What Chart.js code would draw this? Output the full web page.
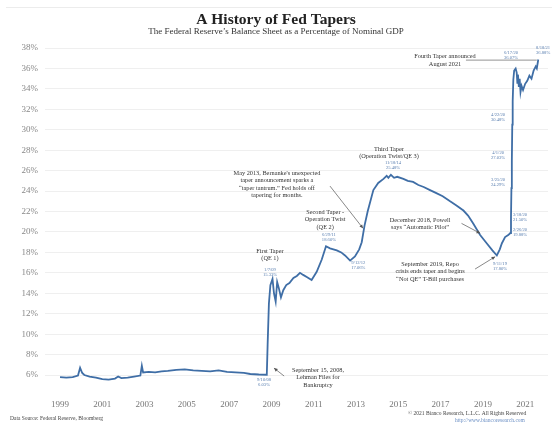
<!DOCTYPE html>
<html><head><meta charset="utf-8">
<script src="https://cdn.jsdelivr.net/npm/chart.js@4.4.1/dist/chart.umd.min.js"></script>
<style>html,body{margin:0;padding:0;background:#fff}canvas{display:block}</style>
</head><body>
<canvas id="c" width="552" height="424"></canvas>
<script>
// ---- data ----
const dates = [1999.0,1999.3,1999.6,1999.85,1999.95,2000.05,2000.15,2000.4,2000.7,2001.0,2001.3,2001.6,2001.75,2001.9,2002.2,2002.5,2002.8,2002.87,2002.93,2003.2,2003.5,2003.8,2004.1,2004.5,2004.9,2005.3,2005.7,2006.1,2006.5,2006.9,2007.3,2007.7,2008.0,2008.4,2008.78,2008.82,2008.88,2008.95,2009.05,2009.12,2009.2,2009.27,2009.35,2009.45,2009.56,2009.7,2009.85,2010.04,2010.2,2010.35,2010.5,2010.67,2010.9,2011.14,2011.38,2011.58,2011.77,2012.09,2012.3,2012.48,2012.72,2012.95,2013.15,2013.27,2013.4,2013.55,2013.82,2014.05,2014.3,2014.45,2014.53,2014.65,2014.8,2014.95,2015.24,2015.45,2015.7,2015.95,2016.2,2016.5,2016.8,2017.1,2017.45,2017.75,2018.08,2018.3,2018.55,2018.87,2019.18,2019.45,2019.66,2019.8,2019.9,2020.05,2020.2,2020.3,2020.33,2020.35,2020.37,2020.39,2020.41,2020.44,2020.48,2020.55,2020.6,2020.63,2020.66,2020.7,2020.74,2020.78,2020.83,2020.9,2021.0,2021.1,2021.2,2021.3,2021.4,2021.5,2021.55,2021.62];
const fedPctGdp = [5.80,5.75,5.80,5.95,6.70,6.20,6.00,5.85,5.75,5.60,5.55,5.65,5.85,5.70,5.75,5.85,5.95,6.90,6.25,6.30,6.25,6.35,6.40,6.50,6.55,6.45,6.40,6.35,6.45,6.30,6.25,6.20,6.10,6.05,6.03,9.0,13.0,14.8,15.4,14.0,13.2,15.1,14.5,13.6,14.3,14.8,15.0,15.5,15.7,16.0,15.8,15.6,15.3,16.1,17.3,18.6,18.4,18.2,18.0,17.7,17.2,17.6,18.3,19.0,20.6,22.0,24.1,24.8,25.2,25.5,25.3,25.6,25.3,25.4,25.2,25.0,24.9,24.6,24.4,24.1,23.8,23.5,23.0,22.6,22.1,21.6,20.8,19.7,18.9,18.2,17.7,18.3,18.9,19.5,19.7,19.9,21.5,24.3,27.0,30.5,32.8,34.9,35.8,36.0,35.6,34.6,35.4,34.2,35.0,33.7,34.3,33.9,34.5,34.8,35.3,35.0,35.8,36.2,36.0,36.88];
const yTicks = [6,8,10,12,14,16,18,20,22,24,26,28,30,32,34,36,38];
const xTicks = [1999,2001,2003,2005,2007,2009,2011,2013,2015,2017,2019,2021];

// annotations (anchored in data units)
const blackNotes = [
  {x:2017.21, y:37.17, lines:["Fourth Taper announced","August 2021"]},
  {x:2008.93, y:18.13, lines:["First Taper","(QE 1)"]},
  {x:2011.54, y:21.95, lines:["Second Taper -","Operation Twist","(QE 2)"]},
  {x:2014.56, y:28.11, lines:["Third Taper","(Operation Twist/QE 3)"]},
  {x:2009.26, y:25.77, lines:["May 2013, Bernanke's unexpected","taper announcement sparks a","\u201Ctaper tantrum.\u201D Fed holds off","tapering for months."]},
  {x:2016.03, y:21.17, lines:["December 2018, Powell","says \u201CAutomatic Pilot\u201D"]},
  {x:2016.5, y:16.86, lines:["September 2019, Repo","crisis ends taper and begins","\u201CNot QE\u201D T-Bill purchases"]},
  {x:2011.2, y:6.49, lines:["September 15, 2008,","Lehman Files for","Bankruptcy"]}
];
const blueNotes = [
  {x:2020.33, y:37.5, lines:["6/17/20","36.07%"]},
  {x:2021.85, y:38.0, lines:["8/18/21","36.88%"]},
  {x:2019.72, y:31.44, lines:["4/22/20","30.48%"]},
  {x:2019.72, y:27.72, lines:["4/1/20","27.03%"]},
  {x:2019.72, y:25.08, lines:["3/25/20","24.29%"]},
  {x:2020.76, y:21.66, lines:["3/18/20","21.50%"]},
  {x:2020.76, y:20.19, lines:["2/26/20","19.88%"]},
  {x:2019.81, y:16.86, lines:["9/11/19","17.80%"]},
  {x:2014.75, y:26.74, lines:["11/18/14","25.48%"]},
  {x:2011.72, y:19.7, lines:["6/29/11","18.60%"]},
  {x:2013.11, y:16.96, lines:["9/12/12","17.06%"]},
  {x:2008.93, y:16.27, lines:["1/7/09","15.33%"]},
  {x:2008.65, y:5.5, lines:["9/10/08","6.03%"]}
];
const arrows = [
  {x1:2011.77,y1:24.49,x2:2013.33,y2:20.36},
  {x1:2017.99,y1:20.84,x2:2018.87,y2:19.87},
  {x1:2018.63,y1:16.37,x2:2019.58,y2:17.58},
  {x1:2009.6,y1:5.9,x2:2009.12,y2:6.68}
];
const taperLine = {x1:2018.2, x2:2021.55, y:36.82};

const SERIF = '"Liberation Serif","DejaVu Serif",serif';

const overlay = {
  id:'overlay',
  afterDraw(chart){
    const ctx = chart.ctx, xs = chart.scales.x, ys = chart.scales.y;
    ctx.save();
    ctx.strokeStyle = '#ececec'; ctx.lineWidth = 1;
    ctx.beginPath(); ctx.moveTo(6,7.5); ctx.lineTo(552,7.5); ctx.stroke();
    ctx.textAlign = 'center'; ctx.textBaseline = 'middle';
    ctx.fillStyle = '#222';
    ctx.font = 'bold 15.5px ' + SERIF;
    ctx.fillText('A History of Fed Tapers', 276, 20);
    ctx.fillStyle = '#333';
    ctx.font = '9px ' + SERIF;
    ctx.fillText('The Federal Reserve\u2019s Balance Sheet as a Percentage of Nominal GDP', 276, 32);
    ctx.fillStyle = '#333';
    ctx.font = '6.3px ' + SERIF;
    blackNotes.forEach(n => {
      const px = xs.getPixelForValue(n.x), py = ys.getPixelForValue(n.y);
      n.lines.forEach((l,i) => ctx.fillText(l, px, py + i*7.5));
    });
    ctx.fillStyle = '#5a7fb0';
    ctx.font = '4.6px ' + SERIF;
    blueNotes.forEach(n => {
      const px = xs.getPixelForValue(n.x), py = ys.getPixelForValue(n.y);
      n.lines.forEach((l,i) => ctx.fillText(l, px, py + i*5));
    });
    ctx.strokeStyle = '#777'; ctx.lineWidth = 0.8;
    const ty = ys.getPixelForValue(taperLine.y);
    ctx.beginPath(); ctx.moveTo(xs.getPixelForValue(taperLine.x1), ty); ctx.lineTo(xs.getPixelForValue(taperLine.x2), ty); ctx.stroke();
    ctx.strokeStyle = '#555'; ctx.fillStyle = '#555'; ctx.lineWidth = 0.7;
    arrows.forEach(a => {
      const x1 = xs.getPixelForValue(a.x1), y1 = ys.getPixelForValue(a.y1);
      const x2 = xs.getPixelForValue(a.x2), y2 = ys.getPixelForValue(a.y2);
      ctx.beginPath(); ctx.moveTo(x1,y1); ctx.lineTo(x2,y2); ctx.stroke();
      const ang = Math.atan2(y2-y1, x2-x1), h = 4;
      ctx.beginPath(); ctx.moveTo(x2,y2);
      ctx.lineTo(x2 - h*Math.cos(ang-0.45), y2 - h*Math.sin(ang-0.45));
      ctx.lineTo(x2 - h*Math.cos(ang+0.45), y2 - h*Math.sin(ang+0.45));
      ctx.closePath(); ctx.fill();
    });
    ctx.font = '5.5px ' + SERIF;
    ctx.textAlign = 'left'; ctx.fillStyle = '#444';
    ctx.fillText('Data Source: Federal Reserve, Bloomberg', 10, 419);
    ctx.fillText('\u00A9 2021 Bianco Research, L.L.C. All Rights Reserved', 408, 414);
    ctx.fillStyle = '#6b8fc4';
    ctx.fillText('http://www.biancoresearch.com', 455, 421);
    ctx.restore();
  }
};

new Chart(document.getElementById('c'), {
  type:'line',
  data:{ datasets:[{
    data: dates.map((d,i)=>({x:d, y:fedPctGdp[i]})),
    borderColor:'#3f6ea6', borderWidth:1.8, pointRadius:0, tension:0, fill:false
  }]},
  options:{
    responsive:false, animation:false, devicePixelRatio:1,
    layout:{padding:{top:45, right:4, bottom:16, left:0}},
    plugins:{legend:{display:false}, tooltip:{enabled:false}},
    scales:{
      x:{ type:'linear', min:1998.29, max:2022.08,
        grid:{display:false, drawTicks:false}, border:{display:false},
        afterBuildTicks:s=>{ s.ticks = xTicks.map(v=>({value:v})); },
        afterFit:s=>{ s.height = 15; },
        ticks:{ autoSkip:false, maxRotation:0, padding:6, color:'#777',
          font:{family:SERIF, size:9}, callback:v=>String(v) } },
      y:{ min:4.24, max:38.3,
        grid:{color:'#efefef', lineWidth:1, drawTicks:false}, border:{display:false},
        afterBuildTicks:s=>{ s.ticks = yTicks.map(v=>({value:v})); },
        afterFit:s=>{ s.width = 45; },
        ticks:{ padding:7, color:'#888', font:{family:SERIF, size:9}, callback:v=>v+'%' } }
    }
  },
  plugins:[overlay]
});
</script>
</body></html>
